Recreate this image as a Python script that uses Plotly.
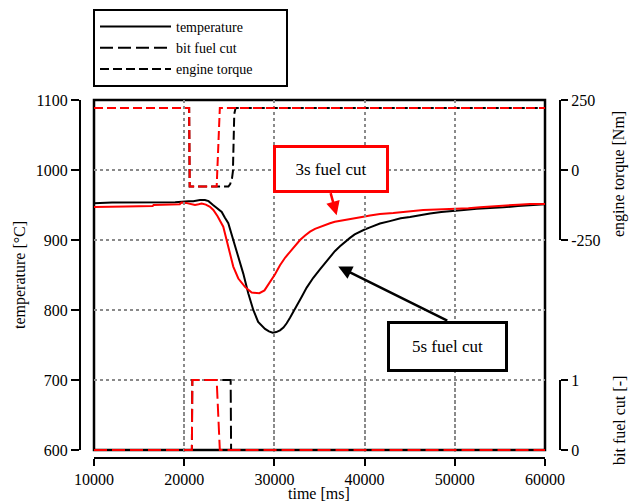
import plotly.graph_objects as go

# ---------------- data ----------------
t_temp_5s = [10000, 11900, 12000, 19000, 19600, 20500, 21000, 21750, 22300, 22700, 23200,
             23700, 24160, 24500, 24890, 25440, 26000, 26550, 27100, 27660, 28200, 28600,
             28960, 29400, 29800, 30200, 30620, 31000, 31360, 31730, 32100, 32470, 33030,
             33580, 34310, 35050, 35600, 36160, 36700, 37270, 37800, 38380, 38900, 39490,
             40000, 40600, 41200, 41700, 42800, 44000, 45030, 46000, 47250, 48500, 49830,
             51000, 52430, 54000, 55380, 57000, 58330, 60000]
temp_5s = [952.5, 952.5, 953.5, 954, 955, 955.5, 955.5, 957, 957, 955.5, 950,
           945, 940, 932, 924, 900, 876, 852, 824, 800, 783, 777,
           773, 769.5, 767.5, 768.5, 771, 775, 781, 789, 797, 806, 819,
           832, 846, 858, 867, 876, 884, 891, 897, 903, 908, 912,
           915, 918, 921, 923.5, 927, 931, 933, 935.5, 938, 940, 942,
           943, 944.5, 945.5, 946.7, 948.5, 950, 951]

t_temp_3s = [10000, 13400, 13500, 16500, 16600, 19500, 19700, 20200, 20640, 21200, 21600,
             21940, 22400, 22860, 23230, 23700, 24330, 24890, 25440, 26000, 26740, 27480,
             28330, 28900, 29500, 30070, 30620, 31200, 31730, 32300, 32840, 33400, 33950,
             34500, 35050, 35600, 36160, 36700, 37270, 38000, 38750, 39700, 40600, 41700,
             43180, 44500, 46500, 48000, 49830, 51500, 52790, 54000, 55380, 57000, 58330, 60000]
temp_3s = [947, 947, 948, 948.5, 950, 951, 953.5, 953, 952, 950, 951,
           952, 950.5, 947.5, 943, 934, 919, 890.5, 862, 845, 833, 825,
           824, 828, 840, 851, 864, 875, 883, 892, 900, 906.5, 912,
           916, 919, 922, 924, 926, 927.5, 929.5, 931, 933, 935, 937,
           938.5, 940.5, 943, 943.5, 944, 945.5, 946.7, 948, 949, 950.5, 951.3, 951.5]

t_bit_5s = [10000, 20850, 20900, 25150, 25200, 60000]
bit_5s = [0, 0, 1, 1, 0, 0]
t_bit_3s = [10000, 20850, 20900, 23600, 23950, 60000]
bit_3s = [0, 0, 1, 1, 0, 0]

t_torque_5s = [10000, 20550, 20600, 24900, 25100, 25300, 25400, 25550, 25700, 60000]
torque_5s = [221, 221, -59, -59, -50, -30, -5, 200, 221, 221]
t_torque_3s = [10000, 20550, 20620, 23600, 23950, 60000]
torque_3s = [221, 221, -59, -59, 221, 221]

x_ticks = [10000, 20000, 30000, 40000, 50000, 60000]
temp_ticks = [600, 700, 800, 900, 1000, 1100]
torque_ticks = [-250, 0, 250]
torque_ticklabels = ["-250", "0", "250"]
bit_ticks = [0, 1]

# ---------------- styles ----------------
W, H = 629, 503
FONT = "Liberation Serif"
RED = "#ff0000"
BLACK = "#000000"
GRID = "#8a8a8a"
DASH_BIT = "13px,5px"
DASH_TQ = "9px,4px"
NBSP = "\u00a0"


def px(x):
    return x / W


def py(y):
    return 1 - y / H


fig = go.Figure()

# black (5 s) traces first -> legend entries
fig.add_trace(go.Scatter(x=t_temp_5s, y=temp_5s, mode="lines", name="temperature",
                         line=dict(color=BLACK, width=2), xaxis="x", yaxis="y"))
fig.add_trace(go.Scatter(x=t_bit_5s, y=bit_5s, mode="lines", name="bit fuel cut",
                         line=dict(color=BLACK, width=2, dash=DASH_BIT), xaxis="x", yaxis="y3"))
fig.add_trace(go.Scatter(x=t_torque_5s, y=torque_5s, mode="lines", name="engine torque" + NBSP * 8,
                         line=dict(color=BLACK, width=2, dash=DASH_TQ), xaxis="x", yaxis="y2"))
# red (3 s) traces on top
fig.add_trace(go.Scatter(x=t_temp_3s, y=temp_3s, mode="lines", showlegend=False,
                         line=dict(color=RED, width=2), xaxis="x", yaxis="y"))
fig.add_trace(go.Scatter(x=t_bit_3s, y=bit_3s, mode="lines", showlegend=False,
                         line=dict(color=RED, width=2, dash=DASH_BIT), xaxis="x", yaxis="y3"))
fig.add_trace(go.Scatter(x=t_torque_3s, y=torque_3s, mode="lines", showlegend=False,
                         line=dict(color=RED, width=2, dash=DASH_TQ), xaxis="x", yaxis="y2"))

x_dom = [px(94), px(545)]
y_dom = [py(450), py(100)]
y2_dom = [py(240), py(100)]
bit_pad = 0.05
y3_dom = [py(450 + 70 * bit_pad), py(380 - 70 * bit_pad)]

tickfont = dict(family=FONT, size=16, color=BLACK)

fig.update_layout(
    width=W, height=H, autosize=False,
    margin=dict(l=0, r=0, t=0, b=0, autoexpand=False),
    paper_bgcolor="white", plot_bgcolor="rgba(0,0,0,0)",
    font=dict(family=FONT, size=16, color=BLACK),
    xaxis=dict(domain=x_dom, range=[10000, 60000], anchor="free", position=py(458),
               tickvals=x_ticks, tickformat="d", ticks="outside", ticklen=7, tickwidth=2,
               tickcolor=BLACK, showline=True, linecolor=BLACK, linewidth=2,
               showgrid=True, gridcolor=GRID, gridwidth=2, griddash="dot",
               zeroline=False, tickfont=tickfont, automargin=False),
    yaxis=dict(domain=y_dom, range=[600, 1100], anchor="free", position=px(80),
               tickvals=temp_ticks, tickformat="d", ticks="outside", ticklen=8, tickwidth=2,
               tickcolor=BLACK, showline=True, linecolor=BLACK, linewidth=2,
               showgrid=True, gridcolor=GRID, gridwidth=2, griddash="dot",
               zeroline=False, tickfont=tickfont, automargin=False),
    yaxis2=dict(domain=y2_dom, range=[-250, 250], anchor="free", position=px(560), side="right",
                tickvals=torque_ticks, ticktext=torque_ticklabels, ticks="outside", ticklen=7,
                tickwidth=2, tickcolor=BLACK, showline=True, linecolor=BLACK, linewidth=2,
                showgrid=False, zeroline=False, tickfont=tickfont, automargin=False),
    yaxis3=dict(domain=y3_dom, range=[-bit_pad, 1 + bit_pad], anchor="free", position=px(560),
                side="right", tickvals=bit_ticks, ticktext=["0", "1"], ticks="outside", ticklen=7,
                tickwidth=2, tickcolor=BLACK, showline=False, showgrid=False, zeroline=False,
                tickfont=tickfont, automargin=False),
    legend=dict(x=px(93), y=py(9), xanchor="left", yanchor="top", bgcolor="white",
                bordercolor=BLACK, borderwidth=2, font=dict(family=FONT, size=14, color=BLACK),
                itemwidth=71, tracegroupgap=0),
    showlegend=True,
)

# plot frame and bracket-style axis line for the bit axis
fig.add_shape(type="rect", xref="x domain", yref="y domain", x0=0, x1=1, y0=0, y1=1,
              line=dict(color=BLACK, width=2.5), layer="below")
fig.add_shape(type="line", xref="paper", yref="y3", x0=px(560), x1=px(560), y0=0, y1=1,
              line=dict(color=BLACK, width=2))

# axis titles
title_font = dict(family=FONT, size=16, color=BLACK)
fig.add_annotation(text="time [ms]", xref="paper", yref="paper", x=px(319), y=py(493),
                   xanchor="center", yanchor="middle", showarrow=False, font=title_font)
fig.add_annotation(text="temperature [°C]", xref="paper", yref="paper", x=px(20), y=py(275),
                   xanchor="center", yanchor="middle", showarrow=False, textangle=-90,
                   font=title_font)
fig.add_annotation(text="engine torque [Nm]", xref="paper", yref="paper", x=px(619), y=py(174),
                   xanchor="center", yanchor="middle", showarrow=False, textangle=-90,
                   font=title_font)
fig.add_annotation(text="bit fuel cut [-]", xref="paper", yref="paper", x=px(619), y=py(421),
                   xanchor="center", yanchor="middle", showarrow=False, textangle=-90,
                   font=title_font)

# callouts
fig.add_annotation(text="3s fuel cut", xref="x", yref="y", x=36900, y=935.5,
                   ax=-6, ay=-22, xanchor="center", yanchor="bottom",
                   showarrow=True, arrowcolor=RED, arrowwidth=2.5, arrowhead=2, arrowsize=1.1,
                   bordercolor=RED, borderwidth=3, borderpad=0, bgcolor="white",
                   width=110, height=42, font=dict(family=FONT, size=17, color=BLACK))
fig.add_annotation(text="5s fuel cut", xref="x", yref="y", x=37080, y=862,
                   ax=109, ay=54, xanchor="center", yanchor="top",
                   showarrow=True, arrowcolor=BLACK, arrowwidth=2.5, arrowhead=2, arrowsize=1.1,
                   bordercolor=BLACK, borderwidth=3, borderpad=0, bgcolor="white",
                   width=115, height=45, font=dict(family=FONT, size=17, color=BLACK))

fig.write_html("out.html")
